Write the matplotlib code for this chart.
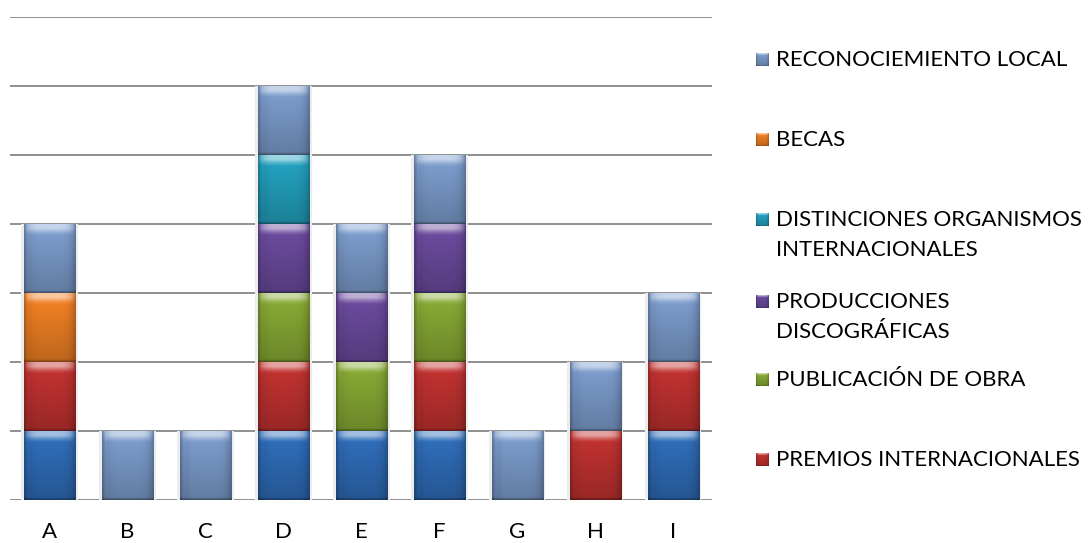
import numpy as np
import matplotlib
matplotlib.use("Agg")
import matplotlib.pyplot as plt
from matplotlib.colors import to_rgb

plt.rcParams['font.family'] = ['Lato', 'DejaVu Sans']

categorias = ["A", "B", "C", "D", "E", "F", "G", "H", "I"]

# stacked series, bottom to top
serie_base = [1, 0, 0, 1, 1, 1, 0, 0, 1]
premios_internacionales = [1, 0, 0, 1, 0, 1, 0, 1, 1]
publicacion_de_obra = [0, 0, 0, 1, 1, 1, 0, 0, 0]
producciones_discograficas = [0, 0, 0, 1, 1, 1, 0, 0, 0]
distinciones_organismos = [0, 0, 0, 1, 0, 0, 0, 0, 0]
becas = [1, 0, 0, 0, 0, 0, 0, 0, 0]
reconocimiento_local = [1, 1, 1, 1, 1, 1, 1, 1, 1]

series = [
    ("", serie_base, "#2f6cb8"),
    ("PREMIOS INTERNACIONALES", premios_internacionales, "#bf3230"),
    ("PUBLICACIÓN DE OBRA", publicacion_de_obra, "#86a834"),
    ("PRODUCCIONES\nDISCOGRÁFICAS", producciones_discograficas, "#6a4a9c"),
    ("DISTINCIONES ORGANISMOS\nINTERNACIONALES", distinciones_organismos, "#23a0bd"),
    ("BECAS", becas, "#ee7f24"),
    ("RECONOCIEMIENTO LOCAL", reconocimiento_local, "#7b9bcb"),
]


def gel_image(color, n=96):
    """RGB image giving a bar segment a glossy bevelled look."""
    base = np.array(to_rgb(color))
    u = np.linspace(0, 1, n)
    v = np.linspace(0, 1, n)  # bottom -> top
    horiz = 1.0 - 0.25 * np.abs(2 * u - 1) ** 5
    horiz = horiz + 0.07 * np.exp(-((u - 0.07) / 0.03) ** 2)
    vert = 0.80 + 0.24 * v
    shade = np.outer(vert, horiz)
    img = np.clip(base[None, None, :] * shade[:, :, None], 0, 1)
    # top highlight band with rounded ends
    top = np.clip((v - 0.84) / 0.10, 0, 1) ** 1.3
    ends = np.clip(1 - np.abs(2 * u - 1) ** 5, 0, 1)
    hl = 0.55 * np.outer(top, ends)
    img = img + (1 - img) * hl[:, :, None]
    # dark seam at the bottom
    bot = np.clip((0.035 - v) / 0.035, 0, 1)
    img = img * (1 - 0.35 * bot)[:, None, None]
    return img


fig = plt.figure(figsize=(10.89, 5.43), dpi=100)
ax = fig.add_axes([10 / 1089, 43 / 543, 702 / 1089, 483 / 543])

x = np.arange(len(categorias))
width = 0.655
ymax = 7

for yv in range(0, ymax + 1):
    ax.axhline(yv, color="#878787", lw=1.3, zorder=0)

totales = np.sum([s[1] for s in series], axis=0)
ax.bar(x, totales, width=width + 0.07, color="#ededed", zorder=1, linewidth=0)

bottom = np.zeros(len(categorias))
for nombre, vals, col in series:
    vals = np.array(vals, dtype=float)
    bars = ax.bar(x, vals, width=width, bottom=bottom, color=col, zorder=2, linewidth=0)
    img = gel_image(col)
    for r in bars.patches:
        if r.get_height() <= 0:
            continue
        x0, y0 = r.get_x(), r.get_y()
        ax.imshow(img, extent=(x0, x0 + r.get_width(), y0, y0 + r.get_height()),
                  origin="lower", aspect="auto", interpolation="bilinear", zorder=3)
    bottom += vals

ax.set_xlim(-0.51, len(categorias) - 0.5)
ax.set_ylim(0, ymax)
ax.set_xticks(x)
ax.set_xticklabels(categorias, fontsize=16, color="black")
ax.set_yticks([])
ax.tick_params(axis="x", length=0, pad=16)
for s in ax.spines.values():
    s.set_visible(False)

# legend
W, H = 1089, 543
legend_rows = [
    ("RECONOCIEMIENTO LOCAL", "#7b9bcb", 60),
    ("BECAS", "#ee7f24", 140),
    ("DISTINCIONES ORGANISMOS\nINTERNACIONALES", "#23a0bd", 220),
    ("PRODUCCIONES\nDISCOGRÁFICAS", "#6a4a9c", 302),
    ("PUBLICACIÓN DE OBRA", "#86a834", 380),
    ("PREMIOS INTERNACIONALES", "#bf3230", 460),
]
legend_ax = fig.add_axes([0, 0, 1, 1], facecolor="none")
legend_ax.axis("off")
for texto, col, ypx in legend_rows:
    sz = 13
    legend_ax.imshow(gel_image(col, 32), extent=(762 - sz / 2, 762 + sz / 2, ypx + sz / 2, ypx - sz / 2),
                     origin="lower", aspect="auto", interpolation="bilinear")
    for i, ln in enumerate(texto.split("\n")):
        legend_ax.text(776, ypx + 30 * i, ln, fontsize=16, va="center", ha="left",
                       color="black")
legend_ax.set_xlim(0, W)
legend_ax.set_ylim(H, 0)

fig.savefig("out.png", dpi=100, facecolor="white")
